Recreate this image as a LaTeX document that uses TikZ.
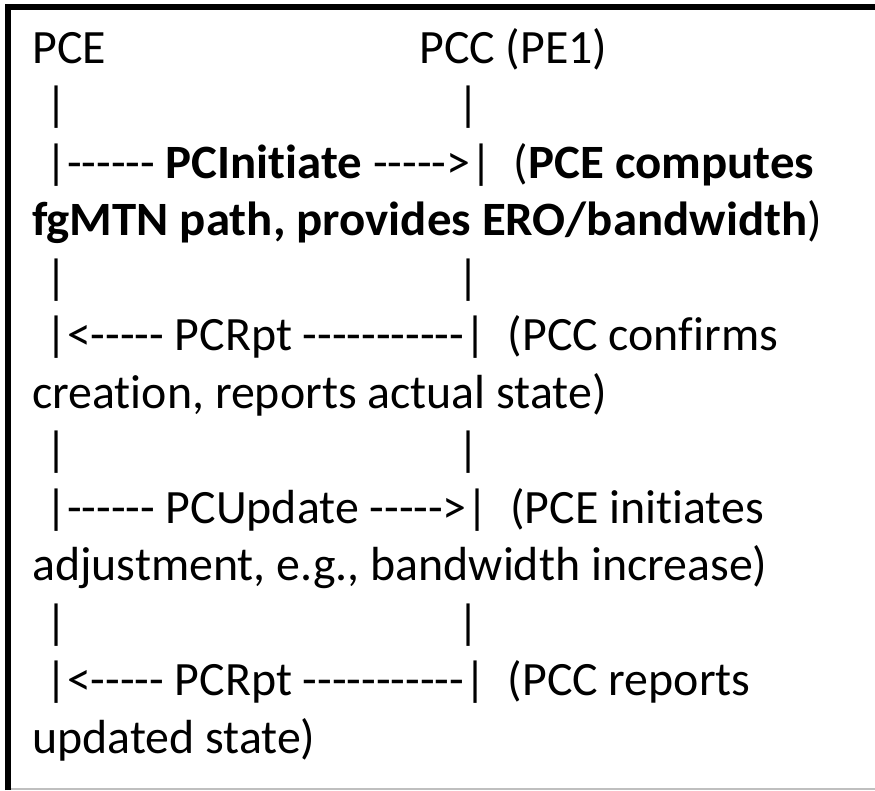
\documentclass[tikz,border=0pt]{standalone}
\usepackage{fontspec}
\setmainfont{Carlito}[Ligatures={TeXOff,NoCommon}, BoldFeatures={FakeStretch=1.02}]
\newcommand{\wbold}[1]{{\bfseries\addfontfeatures{FakeStretch=1.05}#1}}

\begin{document}
\begin{tikzpicture}[x=0.75pt, y=-0.75pt]
	\tikzstyle{every node}=[anchor=base west, inner sep=0pt, font=\fontsize{35.9}{43}\selectfont]
	\useasboundingbox (0,0) rectangle (875,790);
	\draw[line width=4.5pt] (8,790) -- (8,6.5) -- (875,6.5);
	\draw[black!25, line width=1pt] (11,789) -- (875,789);

	\draw (32,63) node (pce) {PCE};
	\draw (419,63) node (pcc) {PCC (PE1)};

	\draw (34,120.5) node (barA1) {\ |};
	\draw (457,120.5) node (barB1) {|};

	\draw (34,178) node (init) {\ |------ \textbf{PCInitiate} ----->|\ \ (\wbold{PCE computes}};
	\draw (32,235.5) node (initc) {\wbold{fgMTN path, provides ERO/bandwidth})};

	\draw (34,293) node (barA2) {\ |};
	\draw (457,293) node (barB2) {|};

	\draw (34,350.5) node (rpt) {\ |<----- PCRpt -----------|\ \ (PCC confirms};
	\draw (32,408) node (rptc) {creation, reports actual state)};

	\draw (34,465.5) node (barA3) {\ |};
	\draw (457,465.5) node (barB3) {|};

	\draw (34,523) node (upd) {\ |------ PCUpdate ----->|\ \ (PCE initiates};
	\draw (32,580.5) node (updc) {adjustment, e.g., bandwidth increase)};

	\draw (34,638) node (barA4) {\ |};
	\draw (457,638) node (barB4) {|};

	\draw (34,695.5) node (rpt2) {\ |<----- PCRpt -----------|\ \ (PCC reports};
	\draw (32,753) node (rpt2c) {updated state)};
\end{tikzpicture}
\end{document}
